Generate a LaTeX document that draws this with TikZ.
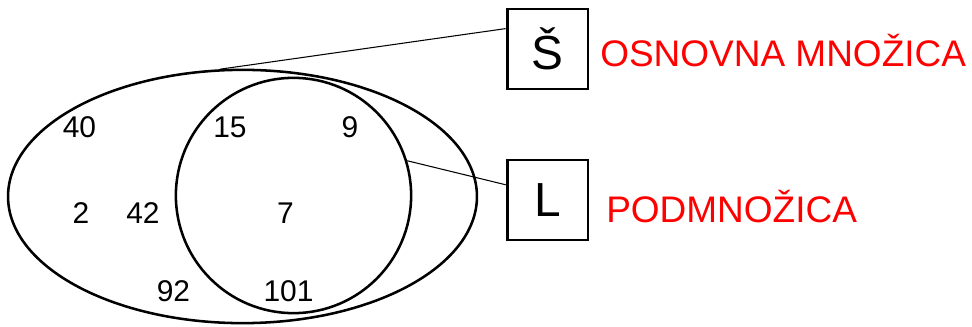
\documentclass[tikz,border=0pt]{standalone}
\usepackage{fontspec}
\setmainfont{Liberation Sans}
\usepackage{tikz}
\usetikzlibrary{shapes.geometric}

\tikzset{
  num/.style={font=\fontsize{21.3pt}{24pt}\selectfont, inner sep=0pt},
  setbox/.style={draw, line width=2pt, minimum width=2.02cm, minimum height=2cm,
    inner sep=0pt, font=\fontsize{34pt}{38pt}\selectfont},
  redlbl/.style={red, anchor=base west, inner sep=0pt,
    font=\fontsize{26.3pt}{30pt}\selectfont},
  conn/.style={line width=0.75pt}
}

\begin{document}
\begin{tikzpicture}[x=0.025cm, y=-0.025cm]
  \useasboundingbox (0,0) rectangle (972,327);

  % Sets
  \node[draw, ellipse, line width=1.8pt, inner sep=0pt,
    minimum width=11.72cm, minimum height=6.33cm] (univ) at (242.5,196.5) {};
  \node[draw, circle, line width=1.8pt, inner sep=0pt,
    minimum size=5.88cm] (sub) at (293.5,195.5) {};

  % Elements
  \node[num] (n40) at (79.5,127.5) {40};
  \node[num] (n15) at (230,127.5) {15};
  \node[num] (n9) at (350,127.5) {9};
  \node[num] (n2) at (81,213.5) {2};
  \node[num] (n42) at (143,213.5) {42};
  \node[num] (n7) at (285.5,213.5) {7};
  \node[num] (n92) at (173.5,291) {92};
  \node[num] (n101) at (288.5,291) {101};

  % Labels
  \node[setbox] (sbox) at (547.5,49) {Š};
  \node[setbox] (lbox) at (547.5,200) {L};
  \node[redlbl] (slbl) at (600,66.5) {OSNOVNA MNOŽICA};
  \node[redlbl] (llbl) at (606,223) {PODMNOŽICA};

  % Pointers
  \draw[conn] (univ.100) -- (sbox.154);
  \draw[conn] (sub.17) -- (lbox.160);
\end{tikzpicture}
\end{document}
